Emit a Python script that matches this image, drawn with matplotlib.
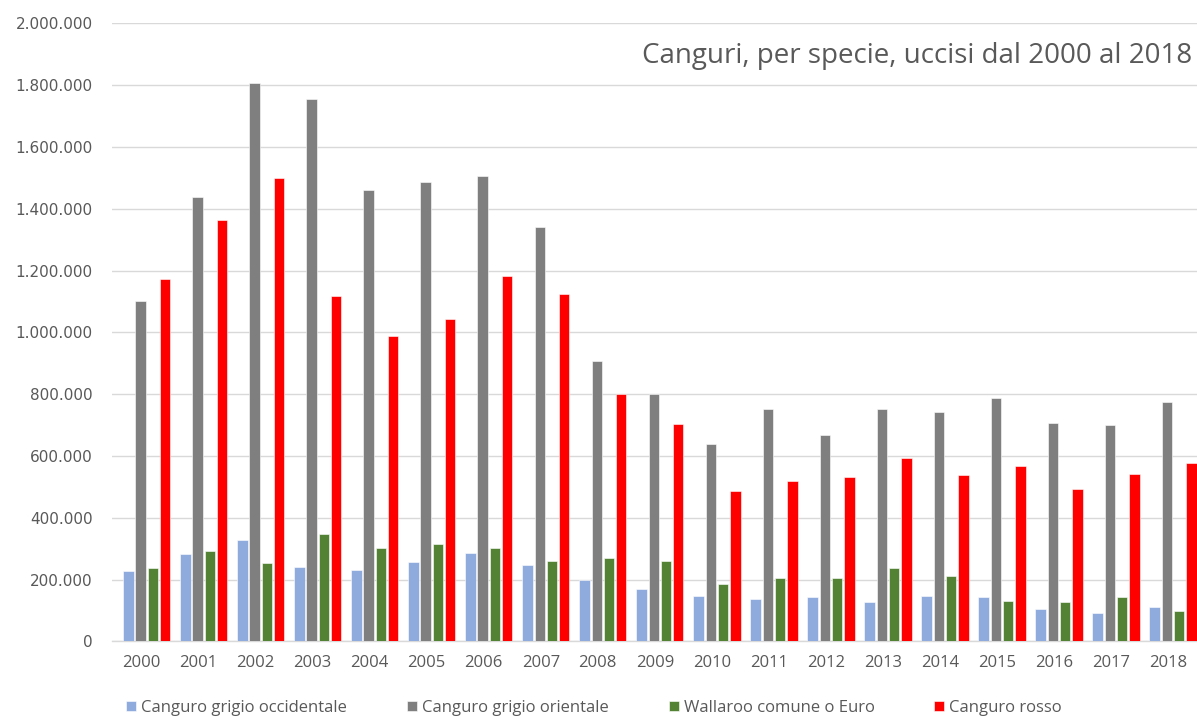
import matplotlib
matplotlib.use("Agg")
import matplotlib.pyplot as plt
import numpy as np
from matplotlib.ticker import FuncFormatter

years = [str(y) for y in range(2000, 2019)]
series_names = ["Canguro grigio occidentale", "Canguro grigio orientale",
                "Wallaroo comune o Euro", "Canguro rosso"]
occidentale = [227000, 282000, 327000, 242000, 232000, 257000, 287000, 246000, 198000,
               168000, 147000, 136000, 142000, 127000, 147000, 142000, 106000, 91000, 112000]
orientale = [1102000, 1437000, 1807000, 1756000, 1461000, 1487000, 1507000, 1342000, 907000,
             800000, 637000, 752000, 667000, 752000, 742000, 786000, 707000, 701000, 773000]
wallaroo = [236000, 291000, 252000, 346000, 301000, 316000, 301000, 261000, 271000,
            261000, 187000, 206000, 206000, 236000, 212000, 132000, 127000, 142000, 97000]
rosso = [1171000, 1362000, 1498000, 1116000, 987000, 1042000, 1182000, 1123000, 800000,
         702000, 487000, 518000, 533000, 592000, 537000, 567000, 492000, 542000, 577000]
colors = ["#8FAADC", "#7F7F7F", "#548235", "#FF0000"]
title = "Canguri, per specie, uccisi dal 2000 al 2018"

fig = plt.figure(figsize=(11.97, 7.17), dpi=100)
ax = fig.add_axes([112/1197, 75.7/717, 1 - 112/1197, (641.3-23.3)/717])

x = np.arange(len(years))
pitch = 0.214
width = 0.185
shift = 0.09
for k, (vals, name, c) in enumerate(zip([occidentale, orientale, wallaroo, rosso], series_names, colors)):
    ax.bar(x + shift + (k - 1.5) * pitch, vals, width=width, color=c, label=name,
           edgecolor="white", linewidth=0.4, zorder=3)

ax.set_xlim(-0.52, 18.51)
ax.set_ylim(0, 2000000)
ax.set_yticks(np.arange(0, 2000001, 200000))
ax.yaxis.set_major_formatter(FuncFormatter(lambda v, p: f"{int(v):,}".replace(",", ".")))
ax.set_xticks(x)
ax.set_xticklabels(years)
ax.grid(axis="y", color="#D9D9D9", linewidth=1.0, zorder=0)
for s in ["top", "right", "left"]:
    ax.spines[s].set_visible(False)
ax.spines["bottom"].set_color("#D9D9D9")
ax.spines["bottom"].set_linewidth(1.0)
ax.tick_params(axis="y", length=0, pad=14, labelsize=11, labelcolor="#595959")
ax.tick_params(axis="x", length=0, pad=10, labelcolor="#595959")
for lab in ax.get_xticklabels():
    lab.set_fontfamily("Open Sans")
    lab.set_fontsize(12)

fig.text(1192/1197, 1 - 56/717, title, ha="right", va="center",
         fontsize=20, color="#595959", family="Open Sans")

leg = fig.legend(loc="center", bbox_to_anchor=(594/1197, 1 - 708/717), ncol=4,
                 frameon=False, handlelength=0.6, handleheight=0.6, handletextpad=0.3,
                 columnspacing=3.6, prop={"family": "Open Sans", "size": 12})
for t in leg.get_texts():
    t.set_color("#595959")

fig.savefig("out.png", dpi=100)
